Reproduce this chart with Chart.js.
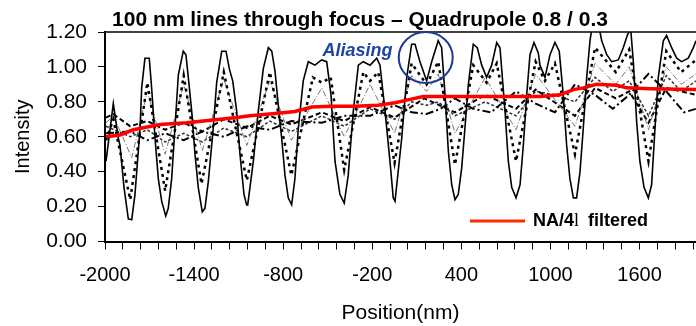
<!DOCTYPE html>
<html>
<head>
<meta charset="utf-8">
<script src="https://cdn.jsdelivr.net/npm/chart.js@4/dist/chart.umd.min.js"></script>
<style>
  html, body { margin: 0; padding: 0; background: #fff; overflow: hidden; }
  #wrap { width: 696px; height: 326px; }
</style>
</head>
<body>
<div id="wrap"><canvas id="focus"></canvas></div>
<script>
// x ticks: labels every 600 nm, small tick marks every 120 nm
const xTickLabels = [-2000, -1400, -800, -200, 400, 1000, 1600];
const xMinorStep = 120;
const yTickLabels = ['0.00', '0.20', '0.40', '0.60', '0.80', '1.00', '1.20'];

// best focus (solid line)
const solidX = [-1993, -1944, -1910, -1899, -1872, -1843, -1820, -1798, -1764, -1753, -1731, -1702, -1686, -1663, -1641, -1618, -1591, -1574, -1551, -1529,
  -1506, -1473, -1455, -1439, -1416, -1394, -1372, -1345, -1327, -1304, -1271, -1248, -1214, -1185, -1163, -1140, -1113, -1091, -1064, -1046,
  -1039, -1001, -968, -934, -900, -877, -855, -833, -810, -788, -766, -743, -721, -698, -665, -631, -586, -541, -507, -478,
  -451, -418, -389, -362, -328, -294, -261, -215, -170, -148, -114, -81, -59, -47, -2, 32, 65, 88, 121, 166,
  200, 244, 267, 290, 312, 335, 357, 379, 402, 424, 447, 480, 507, 537, 570, 604, 638, 660, 694, 716,
  739, 768, 795, 817, 840, 862, 889, 918, 929, 963, 997, 1030, 1059, 1086, 1109, 1131, 1154, 1176, 1199, 1221,
  1244, 1266, 1284, 1322, 1345, 1379, 1412, 1457, 1490, 1517, 1540, 1558, 1580, 1602, 1630, 1659, 1681, 1704, 1726, 1760,
  1782, 1816, 1850, 1883, 1928, 1962, 1980];
const solidY = [0.46, 0.79, 0.59, 0.55, 0.31, 0.13, 0.125, 0.27, 0.65, 0.88, 1.05, 1.05, 0.88, 0.59, 0.36, 0.23, 0.146, 0.19, 0.36, 0.65,
  0.955, 1.09, 1.07, 0.94, 0.745, 0.50, 0.31, 0.17, 0.19, 0.345, 0.65, 0.91, 1.09, 1.09, 0.99, 0.92, 0.745, 0.50, 0.27, 0.21,
  0.21, 0.46, 0.745, 0.99, 1.11, 1.09, 0.975, 0.78, 0.59, 0.38, 0.25, 0.21, 0.36, 0.65, 0.92, 1.03, 1.01, 1.04, 1.03, 0.84,
  0.46, 0.27, 0.22, 0.38, 0.745, 1.01, 1.03, 1.01, 1.05, 1.01, 0.745, 0.46, 0.25, 0.23, 0.59, 0.94, 1.13, 1.13, 1.03, 0.92,
  1.03, 1.15, 1.11, 0.84, 0.52, 0.325, 0.24, 0.27, 0.42, 0.65, 0.90, 1.13, 1.11, 1.01, 0.94, 1.01, 1.14, 1.11, 0.745, 0.46,
  0.31, 0.25, 0.325, 0.55, 0.84, 1.07, 1.14, 1.08, 1.01, 0.94, 1.07, 1.14, 1.09, 0.84, 0.55, 0.36, 0.25, 0.25, 0.40, 0.65,
  0.94, 1.15, 1.25, 1.25, 1.15, 1.07, 1.03, 1.04, 1.11, 1.18, 1.22, 1.03, 0.69, 0.46, 0.31, 0.25, 0.325, 0.65, 0.94, 1.15,
  1.18, 1.11, 1.05, 1.03, 1.05, 1.11, 1.15];

// slight defocus (heavy dots)
const dotX = [-1993, -1944, -1830, -1715, -1595, -1470, -1350, -1200, -1045, -890, -745, -600, -540, -480, -389, -260, -215, -160, -50, 65,
  166, 244, 357, 480, 570, 638, 768, 900, 963, 1030, 1165, 1300, 1440, 1530, 1660, 1780, 1880, 1980];
const dotY = [0.58, 0.70, 0.24, 0.91, 0.29, 0.95, 0.33, 0.97, 0.35, 0.97, 0.38, 0.94, 0.91, 0.94, 0.41, 0.97, 0.92, 0.97, 0.45, 1.02,
  0.90, 1.03, 0.44, 1.01, 0.91, 1.02, 0.46, 1.03, 0.92, 1.02, 0.50, 1.11, 0.97, 1.10, 0.46, 1.09, 0.97, 1.04];

// thin grey dash-dot
const greyX = [-1993, -1944, -1820, -1715, -1595, -1470, -1345, -1200, -1045, -890, -745, -540, -389, -215, -50, 65, 166, 244, 357, 560,
  768, 900, 1165, 1300, 1440, 1530, 1660, 1780, 1880, 1980];
const greyY = [0.68, 0.72, 0.48, 0.86, 0.50, 0.90, 0.52, 0.93, 0.55, 0.92, 0.58, 0.88, 0.60, 0.90, 0.62, 0.95, 0.86, 0.96, 0.62, 0.94,
  0.64, 0.96, 0.66, 1.02, 0.90, 1.00, 0.64, 1.00, 0.90, 0.96];

// strong defocus, dashed
const dashX = [-1993, -1944, -1830, -1715, -1595, -1470, -1345, -1200, -1045, -890, -745, -540, -389, -215, -50, 150, 357, 560, 768, 900,
  1165, 1300, 1440, 1530, 1660, 1780, 1980];
const dashY = [0.71, 0.73, 0.66, 0.69, 0.64, 0.68, 0.63, 0.70, 0.65, 0.72, 0.67, 0.74, 0.69, 0.77, 0.71, 0.82, 0.74, 0.84, 0.76, 0.87,
  0.72, 0.88, 0.82, 0.86, 0.68, 0.88, 0.84];

// strong defocus, dash-dot (contrast reversal on the right)
const dashDotX = [-1993, -1830, -1715, -1595, -1470, -1345, -1200, -1045, -890, -745, -540, -389, -215, -50, 65, 166, 260, 357, 480, 600,
  768, 900, 1030, 1165, 1300, 1420, 1530, 1660, 1780, 1900, 1980];
const dashDotY = [0.62, 0.63, 0.58, 0.62, 0.58, 0.63, 0.60, 0.66, 0.64, 0.69, 0.68, 0.72, 0.72, 0.78, 0.74, 0.73, 0.76, 0.82, 0.76, 0.74,
  0.86, 0.79, 0.74, 0.90, 0.84, 0.76, 0.84, 0.96, 0.86, 0.74, 0.76];

// another defocus curve, short dashes
const shortX = [-1993, -1830, -1715, -1595, -1470, -1345, -1200, -1045, -890, -745, -540, -389, -215, -50, 65, 166, 244, 357, 560, 768,
  900, 1030, 1165, 1300, 1420, 1530, 1660, 1780, 1880, 1980];
const shortY = [0.66, 0.60, 0.64, 0.57, 0.62, 0.57, 0.65, 0.60, 0.69, 0.63, 0.72, 0.66, 0.76, 0.70, 0.80, 0.78, 0.80, 0.72, 0.80, 0.72,
  0.86, 0.84, 0.80, 0.94, 0.86, 0.92, 0.72, 0.95, 0.86, 0.92];

// NA/4l filtered (red)
const redX = [-1993, -1899, -1809, -1630, -1450, -1338, -1226, -1113, -1024, -835, -721, -608, -473, -316, -162, -47, 32, 143, 368, 593,
  929, 1064, 1154, 1221, 1311, 1446, 1513, 1670, 1980];
const redY = [0.60, 0.61, 0.64, 0.67, 0.68, 0.69, 0.70, 0.71, 0.72, 0.735, 0.745, 0.77, 0.775, 0.775, 0.78, 0.795, 0.81, 0.83, 0.83, 0.83,
  0.83, 0.84, 0.87, 0.88, 0.90, 0.895, 0.88, 0.875, 0.87];

const FONT = '"Liberation Sans", Arial, sans-serif';

function pts(xs, ys) {
  return xs.map((x, i) => ({ x: x, y: ys[i] }));
}

function line(data, color, width, dash, order) {
  return {
    data: data,
    borderColor: color,
    borderWidth: width,
    borderDash: dash,
    pointRadius: 0,
    tension: 0,
    fill: false,
    clip: 0,
    order: order
  };
}

const decor = {
  id: 'decor',
  afterDraw(chart) {
    const ctx = chart.ctx;
    const area = chart.chartArea;
    const xs = chart.scales.x;
    const ys = chart.scales.y;
    ctx.save();

    // plot frame top edge
    ctx.strokeStyle = '#000';
    ctx.lineWidth = 1.5;
    ctx.beginPath();
    ctx.moveTo(area.left, area.top);
    ctx.lineTo(area.right, area.top);
    ctx.stroke();

    // title
    ctx.fillStyle = '#000';
    ctx.font = 'bold 21px ' + FONT;
    ctx.textAlign = 'center';
    ctx.textBaseline = 'alphabetic';
    ctx.fillText('100 nm lines through focus \u2013 Quadrupole 0.8 / 0.3', 360, 26);

    // aliasing note
    ctx.fillStyle = '#1F44A3';
    ctx.font = 'italic bold 18px ' + FONT;
    ctx.textBaseline = 'middle';
    ctx.fillText('Aliasing', xs.getPixelForValue(-300), ys.getPixelForValue(1.09));
    ctx.strokeStyle = '#1F3A93';
    ctx.lineWidth = 2;
    ctx.beginPath();
    ctx.ellipse(xs.getPixelForValue(160), ys.getPixelForValue(1.054), 27, 25.5, 0, 0, Math.PI * 2);
    ctx.stroke();

    // legend
    ctx.strokeStyle = '#FF2A00';
    ctx.lineWidth = 3;
    ctx.beginPath();
    ctx.moveTo(470, 221);
    ctx.lineTo(525, 221);
    ctx.stroke();
    ctx.fillStyle = '#000';
    ctx.textAlign = 'left';
    ctx.textBaseline = 'alphabetic';
    ctx.font = 'bold 18px ' + FONT;
    let x = 533;
    ctx.fillText('NA/4', x, 226);
    x += ctx.measureText('NA/4').width;
    ctx.font = '18px "Liberation Serif", "Times New Roman", serif';
    ctx.fillText('l', x, 226);
    x += ctx.measureText('l').width + 9;
    ctx.font = 'bold 18px ' + FONT;
    ctx.fillText('filtered', x, 226);
    ctx.restore();
  }
};

new Chart(document.getElementById('focus'), {
  type: 'line',
  data: {
    datasets: [
      line(pts(redX, redY), '#FF0000', 3.5, [], 0),
      line(pts(solidX, solidY), '#000', 1.6, [], 1),
      line(pts(dotX, dotY), '#000', 2.5, [3, 4], 2),
      line(pts(greyX, greyY), '#777', 1, [6, 2, 1, 2], 3),
      line(pts(dashX, dashY), '#000', 2, [5, 3], 4),
      line(pts(dashDotX, dashDotY), '#000', 2, [8, 3, 2, 3], 5),
      line(pts(shortX, shortY), '#333', 1.5, [3, 2], 6)
    ]
  },
  options: {
    responsive: true,
    maintainAspectRatio: false,
    animation: false,
    layout: { padding: { top: 32, right: 0, left: 0, bottom: 0 } },
    plugins: {
      legend: { display: false },
      tooltip: { enabled: false },
      title: { display: false }
    },
    scales: {
      x: {
        type: 'linear',
        min: -2000,
        max: 1980,
        afterFit(scale) {
          scale.height = 84.5;
          scale.paddingRight = 0;
          scale.paddingLeft = 0;
        },
        afterBuildTicks(scale) {
          const t = [];
          for (let v = xTickLabels[0]; v <= scale.max; v += xMinorStep) t.push({ value: v });
          scale.ticks = t;
        },
        ticks: {
          autoSkip: false,
          maxRotation: 0,
          padding: 14,
          color: '#000',
          font: { family: FONT, size: 20 },
          callback: (v) => xTickLabels.includes(v) ? String(v) : ''
        },
        grid: { drawOnChartArea: false, drawTicks: true, tickLength: 8, color: '#000', lineWidth: 1 },
        border: { display: true, color: '#000', width: 2 },
        title: {
          display: true,
          text: 'Position(nm)',
          color: '#000',
          font: { family: FONT, size: 21 },
          padding: { top: 0, bottom: 0 }
        }
      },
      y: {
        min: 0,
        max: 1.2,
        afterFit(scale) { scale.width = 105; },
        afterBuildTicks(scale) {
          scale.ticks = yTickLabels.map(s => ({ value: parseFloat(s) }));
        },
        ticks: {
          padding: 11,
          color: '#000',
          font: { family: FONT, size: 21 },
          callback: (v) => yTickLabels.find(s => parseFloat(s) === v)
        },
        grid: { drawOnChartArea: false, drawTicks: true, tickLength: 7, color: '#000', lineWidth: 1 },
        border: { display: true, color: '#000', width: 2 },
        title: {
          display: true,
          text: 'Intensity',
          color: '#000',
          font: { family: FONT, size: 20 },
          padding: { top: 11, bottom: 0 }
        }
      }
    }
  },
  plugins: [decor]
});
</script>
</body>
</html>
